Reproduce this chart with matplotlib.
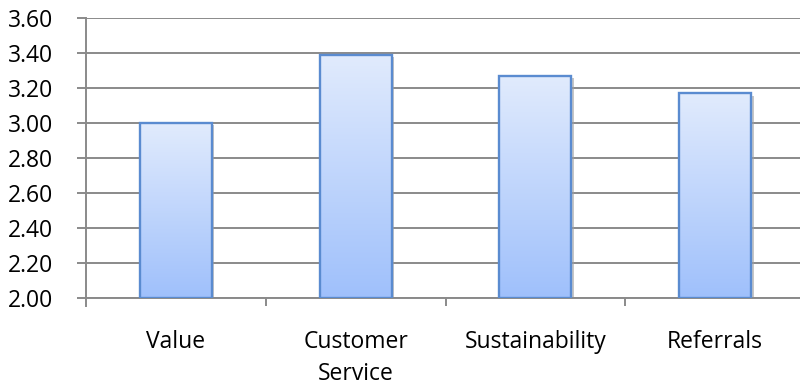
import matplotlib.pyplot as plt
from matplotlib.colors import LinearSegmentedColormap
import numpy as np

categories = ["Value", "Customer\nService", "Sustainability", "Referrals"]
scores = [3.00, 3.39, 3.27, 3.17]
yticks = [2.00, 2.20, 2.40, 2.60, 2.80, 3.00, 3.20, 3.40, 3.60]

plt.rcParams['font.family'] = ['Open Sans', 'DejaVu Sans']

fig = plt.figure(figsize=(8, 3.85), dpi=100)
ax = fig.add_axes([86 / 800, 87 / 385, 719 / 800, 280 / 385])

ax.set_xlim(-0.5, len(categories) - 0.5)
ax.set_ylim(2.0, 3.6)

grid_col = "#8a8a8a"
for t in yticks:
    ax.axhline(t, color=grid_col, lw=1.4, zorder=1)

# bar fill: light blue gradient, lighter at the top
fade = LinearSegmentedColormap.from_list("fade", ["#9fc0fb", "#e1ebfd"])
grad = np.linspace(0, 1, 256).reshape(-1, 1)
w = 0.4
x = np.arange(len(categories))
bars = ax.bar(x, np.array(scores) - 2.0, bottom=2.0, width=w,
              facecolor="none", edgecolor="#5a8bd0", lw=1.7, zorder=4)
for b, v in zip(bars, scores):
    x0 = b.get_x()
    # soft shadow behind each bar
    ax.add_patch(plt.Rectangle((x0 + 0.014, 2.0 - 0.014), w, v - 2.0,
                               facecolor="#a0a0a0", alpha=0.6, lw=0, zorder=2))
    im = ax.imshow(grad, cmap=fade, origin="lower", aspect="auto",
                   extent=[x0, x0 + w, 2.0, v], zorder=3)
    im.set_clip_path(b)
ax.set_xlim(-0.5, len(categories) - 0.5)
ax.set_ylim(2.0, 3.6)

for s in ["top", "right"]:
    ax.spines[s].set_visible(False)
ax.spines["left"].set_color(grid_col)
ax.spines["bottom"].set_color(grid_col)
ax.spines["left"].set_linewidth(1.4)
ax.spines["bottom"].set_linewidth(1.4)
ax.spines["left"].set_bounds(1.955, 3.6)

ax.set_yticks(yticks)
ax.set_yticklabels([f"{t:.2f}" for t in yticks], fontsize=16.5)
ax.tick_params(axis="y", length=6.5, width=1.4, color=grid_col, pad=17)

ax.set_xticks(x)
ax.set_xticklabels(categories, fontsize=16.5, linespacing=1.45)
ax.tick_params(axis="x", length=0, pad=23)
ax.set_xticks(np.arange(0.5, len(categories) - 0.5, 1), minor=True)
ax.tick_params(axis="x", which="minor", length=6, width=1.4, color=grid_col)

fig.savefig("out.png", dpi=100)
